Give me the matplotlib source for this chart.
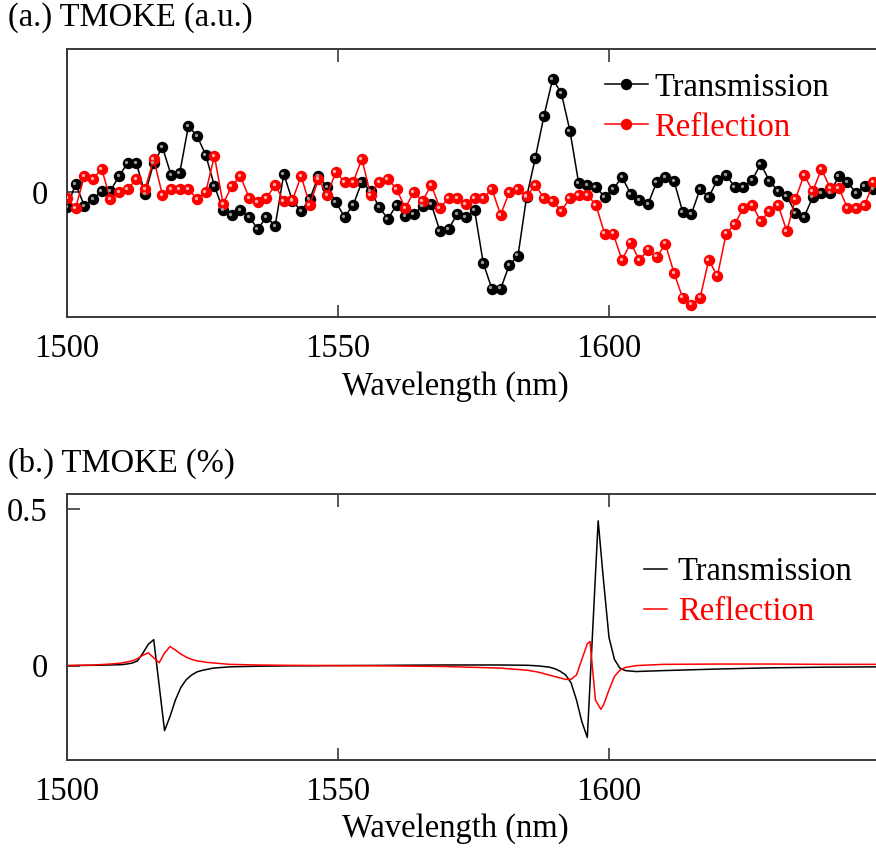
import matplotlib
matplotlib.use("Agg")
import matplotlib.pyplot as plt
from matplotlib.transforms import offset_copy

plt.rcParams['font.family'] = ['Liberation Serif', 'DejaVu Serif']

# (a.) measured TMOKE, a.u.  -- one point every 1.6 nm from 1500 nm
meas_start = 1500.0
meas_step = 1.6
meas_trans = [
    -0.15, 0.08, -0.14, -0.07, 0.01, 0.01, 0.16, 0.29, 0.29, -0.02,
    0.29, 0.45, 0.17, 0.19, 0.66, 0.56, 0.37, 0.06, -0.18, -0.23,
    -0.18, -0.25, -0.37, -0.25, -0.34, 0.18, -0.09, -0.19, -0.07, 0.16,
    0.05, -0.10, -0.25, -0.13, 0.10, 0.01, -0.15, -0.27, -0.13, -0.24,
    -0.22, -0.14, -0.12, -0.39, -0.37, -0.22, -0.25, -0.18, -0.71, -0.97,
    -0.97, -0.73, -0.64, -0.05, 0.34, 0.76, 1.13, 0.99, 0.61, 0.09,
    0.07, 0.05, -0.05, 0.03, 0.15, -0.02, -0.08, -0.12, 0.10, 0.15,
    0.11, -0.20, -0.22, 0.03, -0.05, 0.12, 0.17, 0.05, 0.05, 0.12,
    0.28, 0.11, 0.01, -0.04, -0.21, -0.25, -0.05, -0.01, -0.01, 0.16,
    0.10, -0.01, 0.06, 0.03,
]
meas_refl = [
    -0.06, -0.16, 0.16, 0.13, 0.23, -0.07, 0.00, 0.03, 0.13, 0.03,
    0.33, -0.03, 0.03, 0.03, 0.03, -0.07, 0.00, 0.36, -0.12, 0.06,
    0.16, -0.06, -0.10, -0.06, 0.07, -0.09, -0.08, 0.16, -0.13, 0.13,
    -0.03, 0.20, 0.10, 0.10, 0.33, -0.03, 0.10, 0.13, 0.03, -0.16,
    0.00, -0.09, 0.07, -0.16, -0.06, -0.06, -0.12, -0.06, -0.06, 0.03,
    -0.23, 0.00, 0.03, -0.04, 0.07, -0.06, -0.09, -0.19, -0.06, -0.03,
    -0.03, -0.13, -0.42, -0.42, -0.68, -0.51, -0.68, -0.58, -0.65, -0.52,
    -0.81, -1.06, -1.13, -1.06, -0.68, -0.84, -0.42, -0.32, -0.16, -0.13,
    -0.29, -0.19, -0.13, -0.39, -0.07, 0.17, 0.01, 0.23, 0.04, 0.04,
    -0.16, -0.16, -0.13, 0.10,
]
meas_wl = [meas_start + meas_step * i for i in range(len(meas_trans))]

# (b.) simulated TMOKE, %
sim_wl_t = [1500, 1505, 1508, 1510, 1511, 1512, 1513, 1514, 1515, 1516,
            1518, 1519, 1520, 1521, 1522, 1523, 1524, 1525, 1527, 1530,
            1535, 1540, 1550, 1560, 1570, 1580, 1585, 1587, 1589, 1590,
            1591, 1592, 1593, 1594, 1595, 1596, 1598, 1599, 1600, 1601,
            1602, 1603, 1605, 1610, 1620, 1630, 1640, 1650]
sim_trans = [0.0, 0.001, 0.002, 0.003, 0.005, 0.008, 0.015, 0.04, 0.068, 0.083,
             -0.208, -0.163, -0.11, -0.07, -0.045, -0.03, -0.02, -0.015, -0.008, -0.004,
             -0.002, -0.001, 0.0, 0.001, 0.002, 0.002, 0.001, -0.001, -0.005, -0.01,
             -0.018, -0.03, -0.055, -0.11, -0.18, -0.23, 0.463, 0.27, 0.09, 0.02,
             -0.008, -0.016, -0.019, -0.016, -0.011, -0.007, -0.005, -0.004]
sim_wl_r = [1500, 1505, 1508, 1510, 1512, 1513, 1514, 1515, 1516, 1517,
            1518, 1519, 1520, 1521, 1522, 1523, 1524, 1526, 1530, 1535,
            1540, 1550, 1560, 1570, 1580, 1585, 1587, 1590, 1592, 1593,
            1594, 1595, 1596, 1596.5, 1597.5, 1598.5, 1599, 1600, 1601, 1602,
            1603, 1605, 1610, 1620, 1630, 1640, 1650]
sim_refl = [0.0, 0.002, 0.005, 0.008, 0.015, 0.022, 0.033, 0.041, 0.025, 0.009,
            0.04, 0.061, 0.05, 0.037, 0.027, 0.02, 0.015, 0.01, 0.004, 0.002,
            0.001, 0.0, -0.001, -0.003, -0.008, -0.015, -0.021, -0.035, -0.044, -0.044,
            -0.03, 0.02, 0.07, 0.077, -0.11, -0.14, -0.125, -0.078, -0.035, -0.015,
            -0.006, 0.0, 0.004, 0.005, 0.005, 0.004, 0.004]

wl_ticks = [1500, 1550, 1600]
FS = 23.5
SPINE = '#3a3a3a'


def style_axes(ax, ylim, yticks, yticklabels):
    ax.set_xlim(1500, 1650)
    ax.set_ylim(*ylim)
    ax.set_xticks(wl_ticks)
    ax.set_xticklabels([str(t) for t in wl_ticks])
    ax.set_yticks(yticks)
    ax.set_yticklabels(yticklabels)
    ax.tick_params(axis='x', direction='in', top=True, length=9, width=1.2,
                   labelsize=FS, pad=12, color=SPINE)
    ax.tick_params(axis='y', direction='in', right=False, length=9, width=1.2,
                   labelsize=FS, pad=14, color=SPINE)
    for s in ax.spines.values():
        s.set_color(SPINE)
        s.set_linewidth(1.4)
    ax.set_xlabel('Wavelength (nm)', fontsize=FS)
    ax.xaxis.set_label_coords(0.478, -0.20)


def ball_series(fig, ax, x, y, color, hi, label):
    ax.plot(x, y, '-o', color=color, lw=1.1, ms=7.2, mec=color, mfc=color,
            label=label, zorder=3)
    shift = offset_copy(ax.transData, fig=fig, x=-1.5, y=1.5, units='dots')
    ax.plot(x, y, 'o', color=hi, ms=2.4, mec='none', transform=shift, zorder=4)


fig = plt.figure(figsize=(8.76, 8.59), dpi=100)
W, H = 876.0, 859.0

ax1 = fig.add_axes([67 / W, 1 - 317.3 / H, 813 / W, 268 / H])
ball_series(fig, ax1, meas_wl, meas_trans, 'black', '#9a9a9a', 'Transmission')
ball_series(fig, ax1, meas_wl, meas_refl, '#ff0000', '#ffb0b0', 'Reflection')
style_axes(ax1, (-1.253, 1.427), [0], ['0'])
ax1.legend(loc='upper left', bbox_to_anchor=(0.662, 0.915), frameon=False,
           fontsize=FS, labelcolor='linecolor', handlelength=1.3,
           handletextpad=0.2, labelspacing=0.3, borderpad=0, borderaxespad=0)

ax2 = fig.add_axes([67 / W, 1 - 760 / H, 813 / W, 266 / H])
ax2.plot(sim_wl_t, sim_trans, color='black', lw=1.1, label='Transmission')
ax2.plot(sim_wl_r, sim_refl, color='#ff0000', lw=1.1, label='Reflection')
style_axes(ax2, (-0.302, 0.549), [0, 0.5], ['0', '0.5'])
ax2.legend(loc='upper left', bbox_to_anchor=(0.71, 0.765), frameon=False,
           fontsize=FS, labelcolor='linecolor', handlelength=0.7,
           handletextpad=0.33, labelspacing=0.3, borderpad=0, borderaxespad=0)

fig.text(8 / W, 1 - 18 / H, '(a.) TMOKE (a.u.)', fontsize=FS, ha='left', va='center')
fig.text(8 / W, 1 - 463 / H, '(b.) TMOKE (%)', fontsize=FS, ha='left', va='center')

fig.savefig('out.png', dpi=100)
